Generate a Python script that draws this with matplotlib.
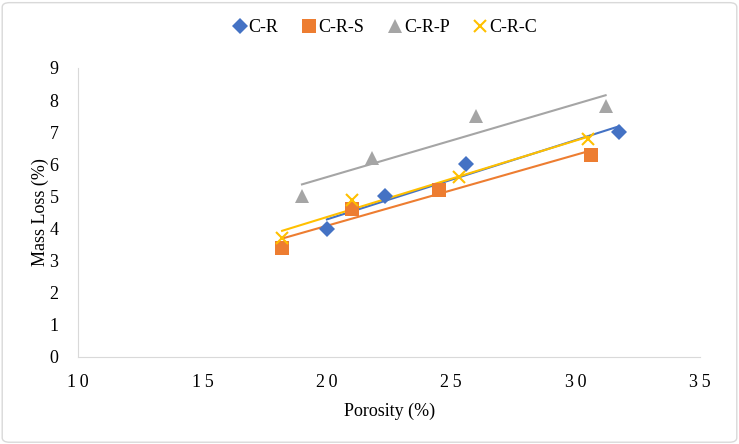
import numpy as np
import matplotlib.pyplot as plt
from matplotlib.patches import FancyBboxPatch

plt.rcParams['font.family'] = ['Liberation Serif', 'DejaVu Serif']

names = ["C-R", "C-R-S", "C-R-P", "C-R-C"]
cr_x = [20.0, 22.35, 25.6, 31.75]
cr_y = [4.0, 5.0, 6.0, 7.0]
crs_x = [18.2, 21.0, 24.5, 30.6]
crs_y = [3.4, 4.6, 5.2, 6.3]
crp_x = [19.0, 21.8, 26.0, 31.2]
crp_y = [5.0, 6.2, 7.5, 7.8]
crc_x = [18.2, 21.0, 25.3, 30.5]
crc_y = [3.7, 4.9, 5.6, 6.8]
xticks = [10, 15, 20, 25, 30, 35]
xtick_labels = ["1\u20090", "1\u20095", "2\u20090", "2\u20095", "3\u20090", "3\u20095"]

colors = ["#4472C4", "#ED7D31", "#A5A5A5", "#FFC000"]
markers = ["D", "s", "^", "x"]
sizes = [8, 10, 10, 9]

fig = plt.figure(figsize=(7.39, 4.44), dpi=100)
ax = fig.add_axes([0.1055, 0.196, 0.842, 0.651])

series = [(cr_x, cr_y), (crs_x, crs_y), (crp_x, crp_y), (crc_x, crc_y)]
for (xs, ys), name, c, m, s in zip(series, names, colors, markers, sizes):
    xs = np.array(xs)
    ys = np.array(ys)
    k, b = np.polyfit(xs, ys, 1)
    xl = np.array([xs.min(), xs.max()])
    ax.plot(xl, k * xl + b, color=c, lw=1.5, zorder=2)
    ax.plot(xs, ys, linestyle="none", marker=m, color=c, markersize=s,
            markeredgewidth=1.5 if m == "x" else 0, label=name, zorder=3)

ax.set_xlim(10, 35)
ax.set_ylim(0, 9)
ax.set_xticks(xticks, xtick_labels)
ax.set_yticks(range(0, 10))
for sp in ["top", "right"]:
    ax.spines[sp].set_visible(False)
ax.spines["bottom"].set_color("#D9D9D9")
ax.spines["left"].set_color("#D9D9D9")
ax.tick_params(length=0, labelsize=13)
ax.tick_params(axis="x", pad=12)
ax.tick_params(axis="y", pad=14)
ax.set_xlabel("Porosity (%)", fontsize=13, labelpad=9)
ax.set_ylabel("Mass Loss (%)", fontsize=13, labelpad=0)

ax.legend(loc="upper center", bbox_to_anchor=(0.49, 1.225), ncol=4, frameon=False,
          fontsize=13, handletextpad=-0.1, columnspacing=1.1, handlelength=1.2)

border = FancyBboxPatch((0.003, 0.004), 0.994, 0.99, boxstyle="round,pad=0,rounding_size=0.01",
                        transform=fig.transFigure, fill=False, edgecolor="#D9D9D9", lw=1)
fig.patches.append(border)

fig.savefig("out.png", dpi=100)
